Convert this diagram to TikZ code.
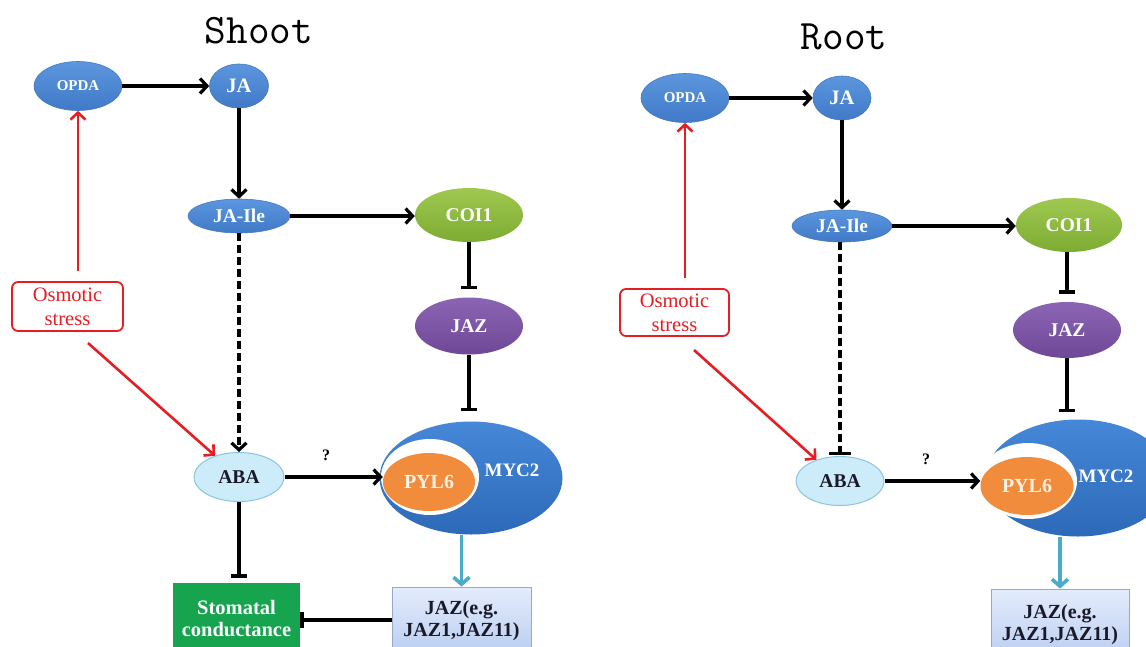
\documentclass[tikz,border=0pt]{standalone}
\usepackage{fontspec}
\setmainfont{Liberation Serif}
\usetikzlibrary{shapes.geometric,arrows.meta}
\definecolor{nbTop}{RGB}{92,150,222}
\definecolor{nbBot}{RGB}{64,122,200}
\definecolor{nbLine}{RGB}{70,120,190}
\definecolor{coiTop}{RGB}{160,200,80}
\definecolor{coiBot}{RGB}{125,172,50}
\definecolor{jazTop}{RGB}{140,100,180}
\definecolor{jazBot}{RGB}{110,72,150}
\definecolor{mycTop}{RGB}{70,135,215}
\definecolor{mycBot}{RGB}{45,105,185}
\definecolor{pylC}{RGB}{240,140,60}
\definecolor{abaFill}{RGB}{205,236,250}
\definecolor{abaLine}{RGB}{140,196,222}
\definecolor{stomC}{RGB}{22,164,78}
\definecolor{jbTop}{RGB}{228,236,252}
\definecolor{jbBot}{RGB}{185,205,240}
\definecolor{jbLine}{RGB}{150,170,200}
\definecolor{cyanA}{RGB}{74,172,200}
\definecolor{redA}{RGB}{230,30,35}
\definecolor{txtDark}{RGB}{25,25,40}
\definecolor{creamT}{RGB}{255,240,225}
\tikzset{
  ell/.style={ellipse, inner sep=0pt, text=white, font=\bfseries\fontsize{19.5}{21}\selectfont},
  blueell/.style={ell, top color=nbTop, bottom color=nbBot, draw=nbLine, line width=0.6pt},
  coiell/.style={ell, top color=coiTop, bottom color=coiBot},
  jazell/.style={ell, top color=jazTop, bottom color=jazBot},
  mycell/.style={ellipse, inner sep=0pt, top color=mycTop, bottom color=mycBot},
  whiteell/.style={ellipse, inner sep=0pt, fill=white},
  pylell/.style={ell, fill=pylC, text=creamT, font=\bfseries\fontsize{20}{22}\selectfont},
  abaell/.style={ellipse, inner sep=0pt, fill=abaFill, draw=abaLine, line width=1pt, text=txtDark, font=\bfseries\fontsize{19.5}{21}\selectfont},
  osmbox/.style={rectangle, rounded corners=6pt, draw=redA, line width=1.8pt, fill=white, text=redA, align=center, font=\fontsize{20.5}{24}\selectfont},
  stombox/.style={rectangle, fill=stomC, text=white, align=center, font=\bfseries\fontsize{20.5}{22}\selectfont},
  jazbox/.style={rectangle, top color=jbTop, bottom color=jbBot, draw=jbLine, line width=0.8pt, text=txtDark, align=center, font=\bfseries\fontsize{20}{22}\selectfont},
  titletxt/.style={font=\ttfamily\fontsize{42}{46}\selectfont},
  qtxt/.style={font=\bfseries\fontsize{16}{18}\selectfont},
  mtxt/.style={text=white, font=\bfseries\fontsize{19}{21}\selectfont},
  arr/.style={line width=3.2pt, -{Straight Barb[length=7pt,width=15pt]}},
  redarr/.style={draw=redA, line width=2.6pt, -{Straight Barb[length=7pt,width=15pt]}},
  cyanarr/.style={draw=cyanA, line width=3.6pt, -{Straight Barb[length=7pt,width=16pt]}},
  inh/.style={line width=3.2pt, -{Bar[width=16pt,line width=3.4pt]}},
  dasharr/.style={line width=3.2pt, dash pattern=on 8pt off 4pt, -{Straight Barb[length=7pt,width=15pt]}},
  dashinh/.style={line width=3.2pt, dash pattern=on 8pt off 4pt, -{Bar[width=22pt,line width=3.4pt]}},
}
\begin{document}
\begin{tikzpicture}[x=1pt,y=-1pt]
\useasboundingbox (0,0) rectangle (1146,646);
\clip (0,0) rectangle (1146,646);
\fill[white] (0,0) rectangle (1146,646);

% ================= Shoot =================
\node[titletxt] (sTitle) at (259,31) {Shoot};
\node[blueell, minimum width=88pt, minimum height=49pt, font=\bfseries\fontsize{15}{17}\selectfont] (sOPDA) at (78,86) {OPDA};
\node[blueell, minimum width=59pt, minimum height=44pt, font=\bfseries\fontsize{20.5}{22}\selectfont] (sJA) at (239,86) {JA};
\node[blueell, minimum width=102pt, minimum height=34pt] (sJAIle) at (239,216) {JA-Ile};
\node[coiell, minimum width=108pt, minimum height=54pt] (sCOI) at (469,215) {COI1};
\node[jazell, minimum width=108pt, minimum height=57pt] (sJAZ) at (469,326) {JAZ};
\node[osmbox, minimum width=111pt, minimum height=49pt] (sOsm) at (67.5,306.5) {Osmotic\\stress};
\node[abaell, minimum width=90pt, minimum height=49pt] (sABA) at (239,477) {ABA};
\node[qtxt] (sQ) at (326,455) {?};
\node[mycell, minimum width=183pt, minimum height=113pt] (sMYC) at (471,478) {};
\node[whiteell, minimum width=98pt, minimum height=76pt] (sWhite) at (430,477) {};
\node[pylell, minimum width=92pt, minimum height=58pt] (sPYL) at (429,482) {PYL6};
\node[mtxt] (sMYCt) at (512,470) {MYC2};
\node[stombox, minimum width=127pt, minimum height=72pt] (sStom) at (236.5,619) {Stomatal\\conductance};
\node[jazbox, minimum width=139pt, minimum height=68pt] (sJAZb) at (461.5,621) {JAZ(e.g.\\JAZ1,JAZ11)};

\draw[arr] (sOPDA.east) -- (sOPDA.east -| sJA.west);
\draw[arr] (sJA.south) -- (sJA.south |- sJAIle.north);
\draw[arr] (sJAIle.east) -- (sJAIle.east -| sCOI.west);
\draw[inh, shorten >=8pt] (sCOI.south) -- (sCOI.south |- sJAZ.north);
\draw[inh, shorten >=10pt] (sJAZ.south) -- (sJAZ.south |- sMYC.north);
\draw[dasharr] (sJAIle.south) -- (sJAIle.south |- sABA.north);
\draw[redarr, shorten <=10pt] (sOsm.north -| sOPDA.south) -- (sOPDA.south);
\coordinate (sOsmOut) at (88,343);
\draw[redarr] (sOsmOut) -- (sABA);
\draw[arr] (sABA.east) -- (sABA.east -| sPYL.west);
\draw[inh, shorten >=5pt] (sABA.south) -- (sABA.south |- sStom.north);
\draw[cyanarr] (sMYC.south -| sJAZb.north) -- (sJAZb.north);
\draw[inh] (sJAZb.west |- 0,620) -- (sStom.east |- 0,620);

% ================= Root =================
\node[titletxt] (rTitle) at (844,37) {Root};
\node[blueell, minimum width=88pt, minimum height=49pt, font=\bfseries\fontsize{15}{17}\selectfont] (rOPDA) at (685,98) {OPDA};
\node[blueell, minimum width=58pt, minimum height=44pt, font=\bfseries\fontsize{20.5}{22}\selectfont] (rJA) at (842,98) {JA};
\node[blueell, minimum width=100pt, minimum height=32pt] (rJAIle) at (842,226) {JA-Ile};
\node[coiell, minimum width=106pt, minimum height=54pt] (rCOI) at (1069,225) {COI1};
\node[jazell, minimum width=108pt, minimum height=56pt] (rJAZ) at (1067,330) {JAZ};
\node[osmbox, minimum width=109pt, minimum height=47pt] (rOsm) at (674.5,312.5) {Osmotic\\stress};
\node[abaell, minimum width=88pt, minimum height=49pt] (rABA) at (840,481) {ABA};
\node[qtxt] (rQ) at (926,459) {?};
\node[mycell, minimum width=185pt, minimum height=117pt] (rMYC) at (1078,478) {};
\node[whiteell, minimum width=98pt, minimum height=76pt] (rWhite) at (1028,481) {};
\node[pylell, minimum width=93pt, minimum height=58pt] (rPYL) at (1027,486) {PYL6};
\node[mtxt] (rMYCt) at (1106,476) {MYC2};
\node[jazbox, minimum width=138pt, minimum height=72pt] (rJAZb) at (1060,625) {JAZ(e.g.\\JAZ1,JAZ11)};

\draw[arr] (rOPDA.east) -- (rOPDA.east -| rJA.west);
\draw[arr] (rJA.south) -- (rJA.south |- rJAIle.north);
\draw[arr] (rJAIle.east) -- (rJAIle.east -| rCOI.west);
\draw[inh, shorten >=8pt] (rCOI.south -| rJAZ.north) -- (rJAZ.north);
\draw[inh, shorten >=7pt] (rJAZ.south) -- (rJAZ.south |- rMYC.north);
\draw[dashinh, shorten >=1pt] (rJAIle.south -| rABA.north) -- (rABA.north);
\draw[redarr, shorten <=10pt] (rOsm.north -| rOPDA.south) -- (rOPDA.south);
\coordinate (rOsmOut) at (694,350);
\draw[redarr] (rOsmOut) -- (rABA);
\draw[arr] (rABA.east) -- (rABA.east -| rPYL.west);
\draw[cyanarr] (rMYC.south -| rJAZb.north) -- (rJAZb.north);
\end{tikzpicture}
\end{document}
